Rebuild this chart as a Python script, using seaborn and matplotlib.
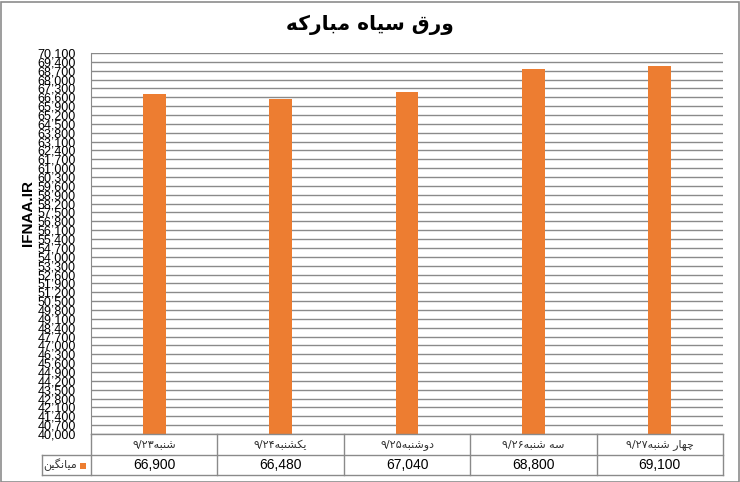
import numpy as np
import pandas as pd
import seaborn as sns
import matplotlib.pyplot as plt
from matplotlib.patches import Rectangle
from matplotlib.lines import Line2D

title = 'ورق سیاه مبارکه'
y_label = 'IFNAA.IR'
series_name = 'میانگین'
days = ['شنبه۹/۲۳', 'یکشنبه۹/۲۴', 'دوشنبه۹/۲۵', 'سه شنبه۹/۲۶', 'چهار شنبه۹/۲۷']
prices = [66900, 66480, 67040, 68800, 69100]
y_min, y_max, y_step = 40000, 70100, 700

# arabic letter forms: isolated, final, initial, medial (no shaping in matplotlib)
FORMS = {
    'ا': ('\uFE8D', '\uFE8E', None, None),
    'ب': ('\uFE8F', '\uFE90', '\uFE91', '\uFE92'),
    'چ': ('\uFB7A', '\uFB7B', '\uFB7C', '\uFB7D'),
    'د': ('\uFEA9', '\uFEAA', None, None),
    'ر': ('\uFEAD', '\uFEAE', None, None),
    'س': ('\uFEB1', '\uFEB2', '\uFEB3', '\uFEB4'),
    'ش': ('\uFEB5', '\uFEB6', '\uFEB7', '\uFEB8'),
    'ق': ('\uFED5', '\uFED6', '\uFED7', '\uFED8'),
    'ک': ('\uFB8E', '\uFB8F', '\uFB90', '\uFB91'),
    'گ': ('\uFB92', '\uFB93', '\uFB94', '\uFB95'),
    'م': ('\uFEE1', '\uFEE2', '\uFEE3', '\uFEE4'),
    'ن': ('\uFEE5', '\uFEE6', '\uFEE7', '\uFEE8'),
    'ه': ('\uFEE9', '\uFEEA', '\uFEEB', '\uFEEC'),
    'و': ('\uFEED', '\uFEEE', None, None),
    'ی': ('\uFBFC', '\uFBFD', '\uFBFE', '\uFBFF'),
}
NUMERIC = set('۰۱۲۳۴۵۶۷۸۹0123456789/,.')


def fa(s):
    shaped = []
    for i, ch in enumerate(s):
        if ch not in FORMS:
            shaped.append(ch)
            continue
        prev = s[i - 1] if i > 0 else ''
        nxt = s[i + 1] if i + 1 < len(s) else ''
        jp = prev in FORMS and FORMS[prev][2] is not None
        jn = FORMS[ch][2] is not None and nxt in FORMS
        iso, fin, ini, med = FORMS[ch]
        shaped.append(med if jp and jn else fin if jp else ini if jn else iso)
    runs = []
    for ch in shaped:
        num = ch in NUMERIC
        if runs and runs[-1][0] == num:
            runs[-1][1].append(ch)
        else:
            runs.append((num, [ch]))
    out = ''
    for num, chars in reversed(runs):
        out += ''.join(chars) if num else ''.join(reversed(chars))
    return out


plt.rcParams['font.family'] = ['Liberation Sans', 'DejaVu Sans']

W, H = 740, 482
fig = plt.figure(figsize=(W / 100, H / 100), dpi=100)
fig.patches.append(Rectangle((0.5 / W, 0.5 / H), 1 - 2 / W, 1 - 2 / H, transform=fig.transFigure,
                             fill=False, edgecolor='#8c8c8c', linewidth=1.2))

L, R, T, B = 91, 723, 53, 434
ax = fig.add_axes([L / W, 1 - B / H, (R - L) / W, (B - T) / H])

df = pd.DataFrame({'day': days, 'price': prices})
sns.barplot(data=df, x='day', y='price', color='#ED7D31', saturation=1, width=0.18, ax=ax, zorder=3)

ax.set_xlim(-0.5, len(days) - 0.5)
ax.set_ylim(y_min, y_max)
ticks = np.arange(y_min, y_max + 1, y_step)
ax.set_yticks(ticks)
ax.set_yticklabels([f'{t:,}' for t in ticks], fontsize=9)
ax.tick_params(axis='y', length=0, pad=11)
ax.set_xticks([])
ax.set_xlabel('')
ax.set_ylabel(y_label, fontsize=11, fontweight='bold')
ax.yaxis.set_label_coords(-0.089, 0.58)
ax.grid(axis='y', color='#8a8a8a', linewidth=1)
for s in ['top', 'right', 'bottom']:
    ax.spines[s].set_visible(False)
ax.spines['left'].set_color('#8a8a8a')

fig.text(0.5, 1 - 25 / H, fa(title), ha='center', va='center', fontsize=14.5, fontweight='bold',
         family=['DejaVu Sans'])

# data table under the axis
gray = '#8a8a8a'
row1, row2 = 455, 475
col_w = (R - L) / len(days)
fx = lambda px: px / W
fy = lambda py: 1 - py / H
for py, x0 in [(B, L), (row1, 42), (row2, 42)]:
    fig.add_artist(Line2D([fx(x0), fx(R)], [fy(py), fy(py)], color=gray, linewidth=1))
for k in range(len(days) + 1):
    xk = L + k * col_w
    fig.add_artist(Line2D([fx(xk), fx(xk)], [fy(B), fy(row2)], color=gray, linewidth=1))
fig.add_artist(Line2D([fx(42), fx(42)], [fy(row1), fy(row2)], color=gray, linewidth=1))

for k, (d, p) in enumerate(zip(days, prices)):
    xc = fx(L + (k + 0.5) * col_w)
    fig.text(xc, fy((B + row1) / 2), fa(d), ha='center', va='center', fontsize=8,
             family=['DejaVu Sans'], color='#333333')
    fig.text(xc, fy((row1 + row2) / 2), f'{p:,}', ha='center', va='center', fontsize=10)

fig.text(fx(77), fy((row1 + row2) / 2), fa(series_name), ha='right', va='center', fontsize=8,
         family=['DejaVu Sans'], color='#333333')
fig.patches.append(Rectangle((fx(80), fy(469)), 6 / W, 6 / H, transform=fig.transFigure,
                             facecolor='#ED7D31', edgecolor='none'))

fig.savefig('out.png', dpi=100)
